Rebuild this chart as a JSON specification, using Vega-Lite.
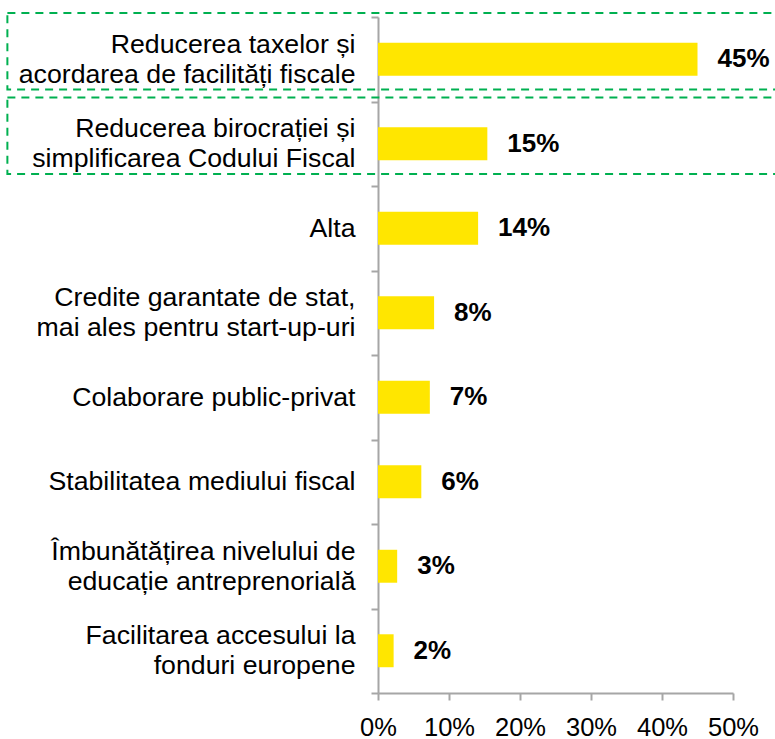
{
  "$schema": "https://vega.github.io/schema/vega-lite/v6.json",
  "width": 355,
  "height": 676,
  "autosize": {"type": "none"},
  "padding": {"left": 378, "top": 17, "right": 42, "bottom": 46},
  "background": "white",
  "config": {"view": {"stroke": null}, "font": "Liberation Sans"},
  "datasets": {
    "main": [
      {"category": "Reducerea taxelor și\nacordarea de facilități fiscale", "value": 45},
      {"category": "Reducerea birocrației și\nsimplificarea Codului Fiscal", "value": 15.4},
      {"category": "Alta", "value": 14.1},
      {"category": "Credite garantate de stat,\nmai ales pentru start-up-uri", "value": 7.9},
      {"category": "Colaborare public-privat", "value": 7.3},
      {"category": "Stabilitatea mediului fiscal", "value": 6.1},
      {"category": "Îmbunătățirea nivelului de\neducație antreprenorială", "value": 2.7},
      {"category": "Facilitarea accesului la\nfonduri europene", "value": 2.2}
    ],
    "highlight": [
      {"category": "Reducerea taxelor și\nacordarea de facilități fiscale"},
      {"category": "Reducerea birocrației și\nsimplificarea Codului Fiscal"}
    ]
  },
  "layer": [
    {
      "data": {"name": "main"},
      "mark": {"type": "bar", "color": "#FFE600", "height": {"band": 0.39}},
      "encoding": {
        "y": {
          "field": "category", "type": "nominal", "sort": null,
          "scale": {"paddingInner": 0, "paddingOuter": 0},
          "axis": {
            "title": null,
            "domainColor": "#A6A6A6", "domainWidth": 2,
            "tickColor": "#A6A6A6", "tickWidth": 2, "tickSize": 7,
            "tickBand": "extent",
            "labelFontSize": 26.7, "labelColor": "#000",
            "labelPadding": 16, "labelLineHeight": 30, "labelLimit": 400,
            "labelOffset": {"condition": {"test": "indexof(datum.label, '\\n') >= 0", "value": -15}, "value": 0},
            "labelExpr": "split(datum.label, '\\n')"
          }
        },
        "x": {
          "field": "value", "type": "quantitative",
          "scale": {"domain": [0, 50], "nice": false},
          "axis": {
            "title": null, "grid": false,
            "values": [0, 10, 20, 30, 40, 50],
            "labelExpr": "datum.value + '%'",
            "labelFontSize": 25.5, "labelColor": "#000",
            "labelFlush": false, "labelOverlap": false,
            "tickSize": 7, "tickColor": "#A6A6A6", "tickWidth": 2,
            "domainColor": "#A6A6A6", "domainWidth": 2,
            "labelPadding": 15
          }
        }
      }
    },
    {
      "data": {"name": "main"},
      "transform": [{"calculate": "format(datum.value, '.0f') + '%'", "as": "label"}],
      "mark": {"type": "text", "align": "left", "baseline": "middle", "dx": 20, "fontSize": 26, "fontWeight": "bold", "color": "#000"},
      "encoding": {
        "y": {"field": "category", "type": "nominal", "sort": null},
        "x": {"field": "value", "type": "quantitative"},
        "text": {"field": "label"}
      }
    },
    {
      "data": {"name": "highlight"},
      "mark": {"type": "bar", "filled": false, "stroke": "#00B050", "strokeWidth": 2, "strokeDash": [8, 6], "height": {"band": 0.905}, "yOffset": -8},
      "encoding": {
        "y": {"field": "category", "type": "nominal", "sort": null},
        "x": {"datum": -52.2},
        "x2": {"datum": 60}
      }
    }
  ]
}
